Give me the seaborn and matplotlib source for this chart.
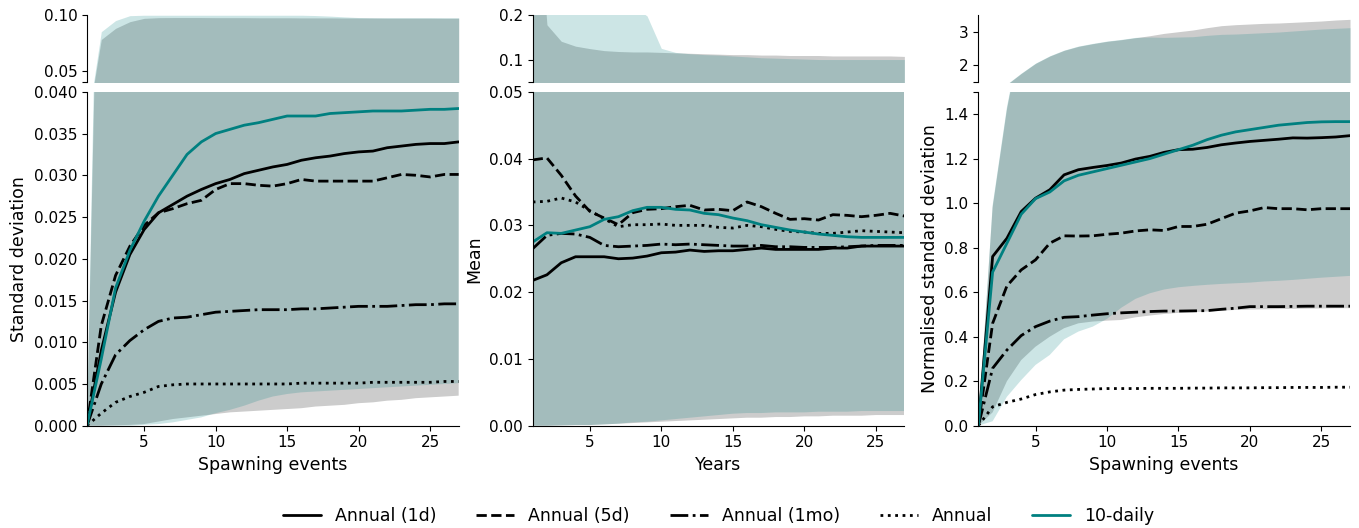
import numpy as np
import matplotlib
matplotlib.use("Agg")
import matplotlib.pyplot as plt
from matplotlib.lines import Line2D
import seaborn as sns

# x positions: spawning events / years
steps = list(range(1, 28))

# --- Panel 1: standard deviation ---
sd_1d = [0, 0.009, 0.016, 0.0205, 0.0235, 0.0255, 0.0265, 0.0275, 0.0283, 0.029, 0.0295, 0.0302, 0.0306, 0.031,
         0.0313, 0.0318, 0.0321, 0.0323, 0.0326, 0.0328, 0.0329, 0.0333, 0.0335, 0.0337, 0.0338, 0.0338, 0.034]
sd_5d = [0, 0.012, 0.018, 0.0215, 0.024, 0.0255, 0.026, 0.0266, 0.027, 0.0283, 0.029, 0.029, 0.0288, 0.0287,
         0.029, 0.0295, 0.0293, 0.0293, 0.0293, 0.0293, 0.0293, 0.0297, 0.0301, 0.03, 0.0298, 0.0301, 0.0301]
sd_1mo = [0, 0.005, 0.0085, 0.0102, 0.0115, 0.0125, 0.0129, 0.013, 0.0133, 0.0136, 0.0137, 0.0138, 0.0139, 0.0139,
          0.0139, 0.014, 0.014, 0.0141, 0.0142, 0.0143, 0.0143, 0.0143, 0.0144, 0.0145, 0.0145, 0.0146, 0.0146]
sd_annual = [0, 0.0015, 0.0028, 0.0035, 0.004, 0.0047, 0.0049, 0.005, 0.005, 0.005, 0.005, 0.005, 0.005, 0.005,
             0.005, 0.0051, 0.0051, 0.0051, 0.0051, 0.0051, 0.0052, 0.0052, 0.0052, 0.0052, 0.0052, 0.0053, 0.0053]
sd_10d = [0, 0.008, 0.0165, 0.021, 0.0245, 0.0275, 0.030, 0.0325, 0.034, 0.035, 0.0355, 0.036, 0.0363, 0.0367,
          0.0371, 0.0371, 0.0371, 0.0374, 0.0375, 0.0376, 0.0377, 0.0377, 0.0377, 0.0378, 0.0379, 0.0379, 0.038]
sd_grey_lo = [0, 0, 0.00005, 0.0001, 0.0002, 0.0005, 0.0008, 0.001, 0.0012, 0.0014, 0.0016, 0.0017, 0.0018, 0.0019,
              0.002, 0.0021, 0.0023, 0.0024, 0.0025, 0.0027, 0.0028, 0.003, 0.0031, 0.0033, 0.0034, 0.0035, 0.0036]
sd_grey_hi = [0, 0.078, 0.088, 0.094, 0.097, 0.0976, 0.0977, 0.0977, 0.0977, 0.0976, 0.0976, 0.0976, 0.0975, 0.0975,
              0.0975, 0.0974, 0.0974, 0.0974, 0.0973, 0.0973, 0.0973, 0.0972, 0.0972, 0.0972, 0.0972, 0.0971, 0.0971]
sd_teal_lo = [0, 0, 0, 0, 0.0001, 0.0002, 0.0004, 0.0007, 0.001, 0.0015, 0.0019, 0.0024, 0.003, 0.0035,
              0.0038, 0.004, 0.0041, 0.0042, 0.0043, 0.0044, 0.0045, 0.0046, 0.0047, 0.0048, 0.0049, 0.005, 0.0051]
sd_teal_hi = [0, 0.085, 0.095, 0.0994, 0.0998, 0.0998, 0.0998, 0.0998, 0.0998, 0.0998, 0.0998, 0.0998, 0.0998,
              0.0998, 0.0998, 0.0998, 0.0995, 0.099, 0.0983, 0.0977, 0.0975, 0.0975, 0.0975, 0.0975, 0.0975,
              0.0975, 0.0975]

# --- Panel 2: mean ---
mn_1d = [0.02175, 0.0226, 0.0244, 0.0253, 0.0253, 0.0253, 0.025, 0.0251, 0.0254, 0.0259, 0.026, 0.0263, 0.0261,
         0.0262, 0.0262, 0.0264, 0.0266, 0.0264, 0.0264, 0.0264, 0.0264, 0.0266, 0.0266, 0.0269, 0.0269, 0.0269,
         0.0269]
mn_5d = [0.0398, 0.0401, 0.0375, 0.0344, 0.0321, 0.0311, 0.0301, 0.0319, 0.0324, 0.0325, 0.0328, 0.033, 0.0323,
         0.0324, 0.0322, 0.0335, 0.0328, 0.0318, 0.0309, 0.031, 0.0308, 0.0316, 0.0315, 0.0313, 0.0315, 0.0318,
         0.0314]
mn_1mo = [0.0265, 0.0285, 0.0288, 0.0287, 0.0282, 0.027, 0.0268, 0.0269, 0.027, 0.0272, 0.0271, 0.0272, 0.0271,
          0.027, 0.0269, 0.0269, 0.027, 0.0268, 0.0268, 0.0267, 0.0267, 0.0267, 0.0268, 0.0269, 0.027, 0.027, 0.027]
mn_annual = [0.0335, 0.0336, 0.0341, 0.0335, 0.0322, 0.031, 0.0298, 0.0301, 0.0301, 0.0302, 0.03, 0.03, 0.03,
             0.0297, 0.0296, 0.03, 0.0298, 0.0294, 0.0291, 0.029, 0.0288, 0.0288, 0.029, 0.0292, 0.0291, 0.029,
             0.0289]
mn_10d = [0.0275, 0.0289, 0.0288, 0.0293, 0.0298, 0.0309, 0.0313, 0.0322, 0.0327, 0.0327, 0.0324, 0.0323, 0.0318,
          0.0316, 0.0311, 0.0307, 0.0301, 0.0297, 0.0293, 0.029, 0.0287, 0.0285, 0.0283, 0.0282, 0.0282, 0.0282,
          0.0282]
mn_grey_lo = [0, 0, 0.00005, 0.0001, 0.0001, 0.0002, 0.0003, 0.0004, 0.0005, 0.0006, 0.0007, 0.0008, 0.0009,
              0.001, 0.0011, 0.0012, 0.0012, 0.0013, 0.0013, 0.0014, 0.0014, 0.0015, 0.0015, 0.0015, 0.0016,
              0.0016, 0.0016]
mn_grey_hi = [0.6, 0.178, 0.141, 0.13, 0.1245, 0.12, 0.118, 0.117, 0.117, 0.116, 0.115, 0.114, 0.113, 0.112,
              0.111, 0.111, 0.11, 0.11, 0.109, 0.109, 0.109, 0.108, 0.108, 0.108, 0.108, 0.108, 0.107]
mn_teal_lo = [0, 0, 0.00005, 0.0001, 0.0001, 0.0002, 0.0003, 0.0005, 0.0006, 0.0008, 0.001, 0.0012, 0.0014,
              0.0016, 0.0018, 0.0019, 0.0019, 0.002, 0.002, 0.002, 0.0021, 0.0021, 0.0021, 0.0022, 0.0022,
              0.0022, 0.0022]
mn_teal_hi = [0.3, 0.3, 0.3, 0.3, 0.3, 0.3, 0.3, 0.22, 0.198, 0.125, 0.116, 0.113, 0.111, 0.11, 0.108, 0.106,
              0.104, 0.103, 0.102, 0.101, 0.1, 0.1, 0.1, 0.1, 0.1, 0.1, 0.1]

# --- Panel 3: normalised standard deviation ---
nsd_1d = [0, 0.76, 0.842, 0.962, 1.022, 1.06, 1.127, 1.15, 1.16, 1.169, 1.18, 1.198, 1.21, 1.228, 1.24, 1.242,
          1.25, 1.262, 1.27, 1.277, 1.282, 1.287, 1.293, 1.292, 1.294, 1.297, 1.303]
nsd_5d = [0, 0.46, 0.628, 0.70, 0.745, 0.82, 0.853, 0.852, 0.853, 0.86, 0.865, 0.875, 0.88, 0.877, 0.895, 0.895,
          0.905, 0.93, 0.955, 0.965, 0.98, 0.975, 0.975, 0.97, 0.975, 0.975, 0.975]
nsd_1mo = [0, 0.258, 0.34, 0.405, 0.445, 0.47, 0.487, 0.49, 0.497, 0.503, 0.507, 0.51, 0.513, 0.515, 0.515, 0.516,
           0.517, 0.523, 0.528, 0.535, 0.535, 0.535, 0.536, 0.537, 0.537, 0.537, 0.537]
nsd_annual = [0, 0.085, 0.105, 0.12, 0.14, 0.152, 0.16, 0.163, 0.165, 0.167, 0.167, 0.167, 0.168, 0.168, 0.168,
              0.169, 0.169, 0.17, 0.17, 0.17, 0.171, 0.171, 0.172, 0.172, 0.172, 0.173, 0.173]
nsd_10d = [0, 0.69, 0.82, 0.95, 1.02, 1.05, 1.1, 1.125, 1.14, 1.155, 1.17, 1.185, 1.2, 1.22, 1.24, 1.26, 1.285,
           1.305, 1.32, 1.33, 1.34, 1.35, 1.356, 1.362, 1.365, 1.366, 1.366]
nsd_grey_lo = [0, 0.06, 0.2, 0.295, 0.355, 0.4, 0.438, 0.46, 0.468, 0.472, 0.475, 0.487, 0.495, 0.502, 0.507,
               0.51, 0.513, 0.517, 0.52, 0.522, 0.523, 0.524, 0.525, 0.526, 0.527, 0.528, 0.528]
nsd_grey_hi = [0, 0.98, 1.42, 1.75, 2.05, 2.27, 2.44, 2.56, 2.64, 2.71, 2.76, 2.82, 2.88, 2.95, 3.0, 3.05, 3.12,
               3.18, 3.21, 3.23, 3.25, 3.26, 3.28, 3.3, 3.32, 3.35, 3.37]
nsd_teal_lo = [0, 0.02, 0.13, 0.205, 0.273, 0.318, 0.388, 0.423, 0.445, 0.48, 0.53, 0.57, 0.595, 0.612, 0.622,
               0.628, 0.633, 0.637, 0.64, 0.643, 0.648, 0.651, 0.655, 0.66, 0.665, 0.669, 0.673]
nsd_teal_hi = [0, 0.99, 1.43, 1.76, 2.06, 2.28, 2.45, 2.57, 2.65, 2.72, 2.77, 2.83, 2.84, 2.83, 2.84, 2.85, 2.89,
               2.92, 2.93, 2.95, 2.97, 2.99, 3.02, 3.05, 3.08, 3.1, 3.12]

labels = ["Annual (1d)", "Annual (5d)", "Annual (1mo)", "Annual", "10-daily"]
styles = ["-", "--", "-.", ":", "-"]
colors = ["black", "black", "black", "black", "teal"]

panels = [
    dict(lines=[sd_1d, sd_5d, sd_1mo, sd_annual, sd_10d],
         grey=(sd_grey_lo, sd_grey_hi), teal=(sd_teal_lo, sd_teal_hi),
         top_lim=(0.04, 0.10), top_ticks=[0.04, 0.05, 0.10], top_labels=["", "0.05", "0.10"],
         bot_lim=(0, 0.04), bot_ticks=np.arange(0, 0.0401, 0.005), fmt="{:.3f}",
         xlabel="Spawning events", ylabel="Standard deviation"),
    dict(lines=[mn_1d, mn_5d, mn_1mo, mn_annual, mn_10d],
         grey=(mn_grey_lo, mn_grey_hi), teal=(mn_teal_lo, mn_teal_hi),
         top_lim=(0.05, 0.2), top_ticks=[0.05, 0.1, 0.2], top_labels=["", "0.1", "0.2"],
         bot_lim=(0, 0.05), bot_ticks=np.arange(0, 0.0501, 0.01), fmt="{:.2f}",
         xlabel="Years", ylabel="Mean"),
    dict(lines=[nsd_1d, nsd_5d, nsd_1mo, nsd_annual, nsd_10d],
         grey=(nsd_grey_lo, nsd_grey_hi), teal=(nsd_teal_lo, nsd_teal_hi),
         top_lim=(1.5, 3.5), top_ticks=[1.5, 2, 3], top_labels=["", "2", "3"],
         bot_lim=(0, 1.5), bot_ticks=[0, 0.2, 0.4, 0.6, 0.8, 1.0, 1.2, 1.4, 1.5], fmt="{:.1f}",
         xlabel="Spawning events", ylabel="Normalised standard deviation"),
]

sns.set_style("ticks")
plt.rcParams["font.family"] = ["DejaVu Sans"]
plt.rcParams.update({"text.color": "black", "axes.labelcolor": "black", "axes.edgecolor": "black",
                     "xtick.color": "black", "ytick.color": "black"})

fig = plt.figure(figsize=(13.59, 5.28), dpi=100)
gs = fig.add_gridspec(2, 3, height_ratios=[1, 5], left=0.064, right=0.9934, top=0.9716,
                      bottom=0.1937, wspace=0.199, hspace=0.05)


def draw(ax, p):
    ax.fill_between(steps, p["grey"][0], p["grey"][1], color="grey", alpha=0.4, lw=0)
    ax.fill_between(steps, p["teal"][0], p["teal"][1], color="teal", alpha=0.2, lw=0)
    for vals, ls, c in zip(p["lines"], styles, colors):
        sns.lineplot(x=steps, y=vals, ax=ax, color=c, linestyle=ls, lw=2, legend=False)


for col, p in enumerate(panels):
    ax_t = fig.add_subplot(gs[0, col])
    ax_b = fig.add_subplot(gs[1, col])
    draw(ax_t, p)
    draw(ax_b, p)

    for ax in (ax_t, ax_b):
        ax.set_xlim(1, 27)
        ax.spines["top"].set_visible(False)
        ax.spines["right"].set_visible(False)
        ax.tick_params(labelsize=11)
        ax.set_ylabel("")
        ax.set_xlabel("")

    ax_t.spines["bottom"].set_visible(False)
    ax_t.tick_params(bottom=False, labelbottom=False)
    ax_t.set_ylim(*p["top_lim"])
    ax_t.set_yticks(p["top_ticks"])
    ax_t.set_yticklabels(p["top_labels"])

    ax_b.set_ylim(*p["bot_lim"])
    ax_b.set_yticks(p["bot_ticks"])
    blabels = [p["fmt"].format(v) for v in p["bot_ticks"]]
    if col == 2:
        blabels[-1] = ""
    ax_b.set_yticklabels(blabels)
    ax_b.set_xticks([5, 10, 15, 20, 25])
    ax_b.set_xlabel(p["xlabel"], fontsize=12.5)
    ax_b.set_ylabel(p["ylabel"], fontsize=12.5)

handles = [Line2D([], [], color=c, linestyle=ls, lw=2) for ls, c in zip(styles, colors)]
fig.legend(handles, labels, loc="center", bbox_to_anchor=(0.5287, 0.0227), ncol=5, frameon=False,
           fontsize=12.5, handlelength=2.2, columnspacing=2.3)

fig.savefig("out.png", dpi=100)
